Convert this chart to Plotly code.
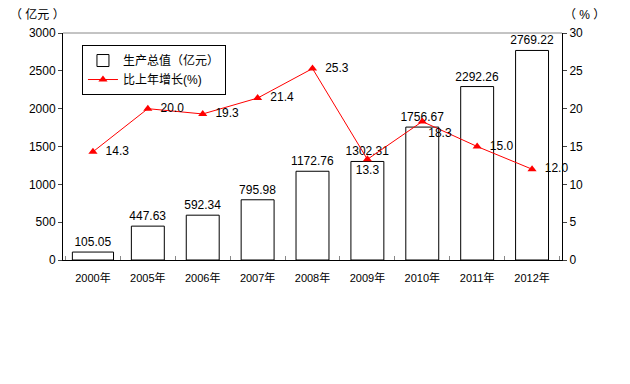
import plotly.graph_objects as go

years = ["2000年", "2005年", "2006年", "2007年", "2008年", "2009年", "2010年", "2011年", "2012年"]
output_value = [105.05, 447.63, 592.34, 795.98, 1172.76, 1302.31, 1756.67, 2292.26, 2769.22]
growth = [14.3, 20.0, 19.3, 21.4, 25.3, 13.3, 18.3, 15.0, 12.0]
growth_pos = ["middle right", "middle right", "middle right", "middle right", "middle right",
              "bottom center", "bottom right", "middle right", "middle right"]

FONT = "Liberation Sans, Noto Sans CJK SC, sans-serif"

growth_text = []
for v, p in zip(growth, growth_pos):
    s = f"{v:.1f}"
    growth_text.append("  " + s if p == "middle right" else s)

fig = go.Figure()
fig.add_trace(go.Bar(
    x=years, y=output_value, name="生产总值（亿元）",
    marker=dict(color="white", line=dict(color="black", width=1)),
    width=[0.75] + [0.6] * 8,
    text=[f"{v:.2f}" for v in output_value], textposition="outside",
    constraintext="none",
    textfont=dict(size=12, color="black", family=FONT), cliponaxis=False,
))
fig.add_trace(go.Scatter(
    x=years, y=growth, name="比上年增长(%)", yaxis="y2",
    mode="lines+markers+text",
    line=dict(color="#ff0000", width=1),
    marker=dict(symbol="triangle-up", size=8, color="#ff0000"),
    text=growth_text, textposition=growth_pos,
    textfont=dict(size=12, color="black", family=FONT), cliponaxis=False,
))

fig.update_layout(
    width=630, height=384,
    margin=dict(l=63, r=68, t=33, b=124),
    paper_bgcolor="white", plot_bgcolor="white",
    font=dict(family=FONT, size=12, color="black"),
    showlegend=True,
    legend=dict(x=0.038, y=0.947, xanchor="left", yanchor="top",
                bgcolor="white", bordercolor="black", borderwidth=1,
                font=dict(size=12), tracegroupgap=0, itemwidth=30),
    bargap=0.4,
    xaxis=dict(showline=True, linecolor="black", linewidth=1,
               ticks="inside", tickson="boundaries", ticklen=4, tickcolor="#888",
               showgrid=False, tickfont=dict(size=11), ticklabelstandoff=8),
    yaxis=dict(range=[0, 3000], dtick=500, showline=True, linecolor="black",
               ticks="outside", ticklen=4, showgrid=False, zeroline=False,
               tickfont=dict(size=12)),
    yaxis2=dict(range=[0, 30], dtick=5, overlaying="y", side="right",
                showline=True, linecolor="black", ticks="outside", ticklen=4,
                showgrid=False, zeroline=False, tickfont=dict(size=12)),
    shapes=[dict(type="line", xref="paper", yref="paper", x0=0, x1=1, y0=1, y1=1,
                 line=dict(color="#888888", width=1))],
    annotations=[
        dict(text="（ 亿元 ）", xref="paper", yref="paper", x=-0.11, y=1.04,
             xanchor="left", yanchor="bottom", showarrow=False, font=dict(size=12)),
        dict(text="（ % ）", xref="paper", yref="paper", x=1.0, y=1.04,
             xanchor="left", yanchor="bottom", showarrow=False, font=dict(size=12)),
    ],
)

fig.write_html("out.html")
